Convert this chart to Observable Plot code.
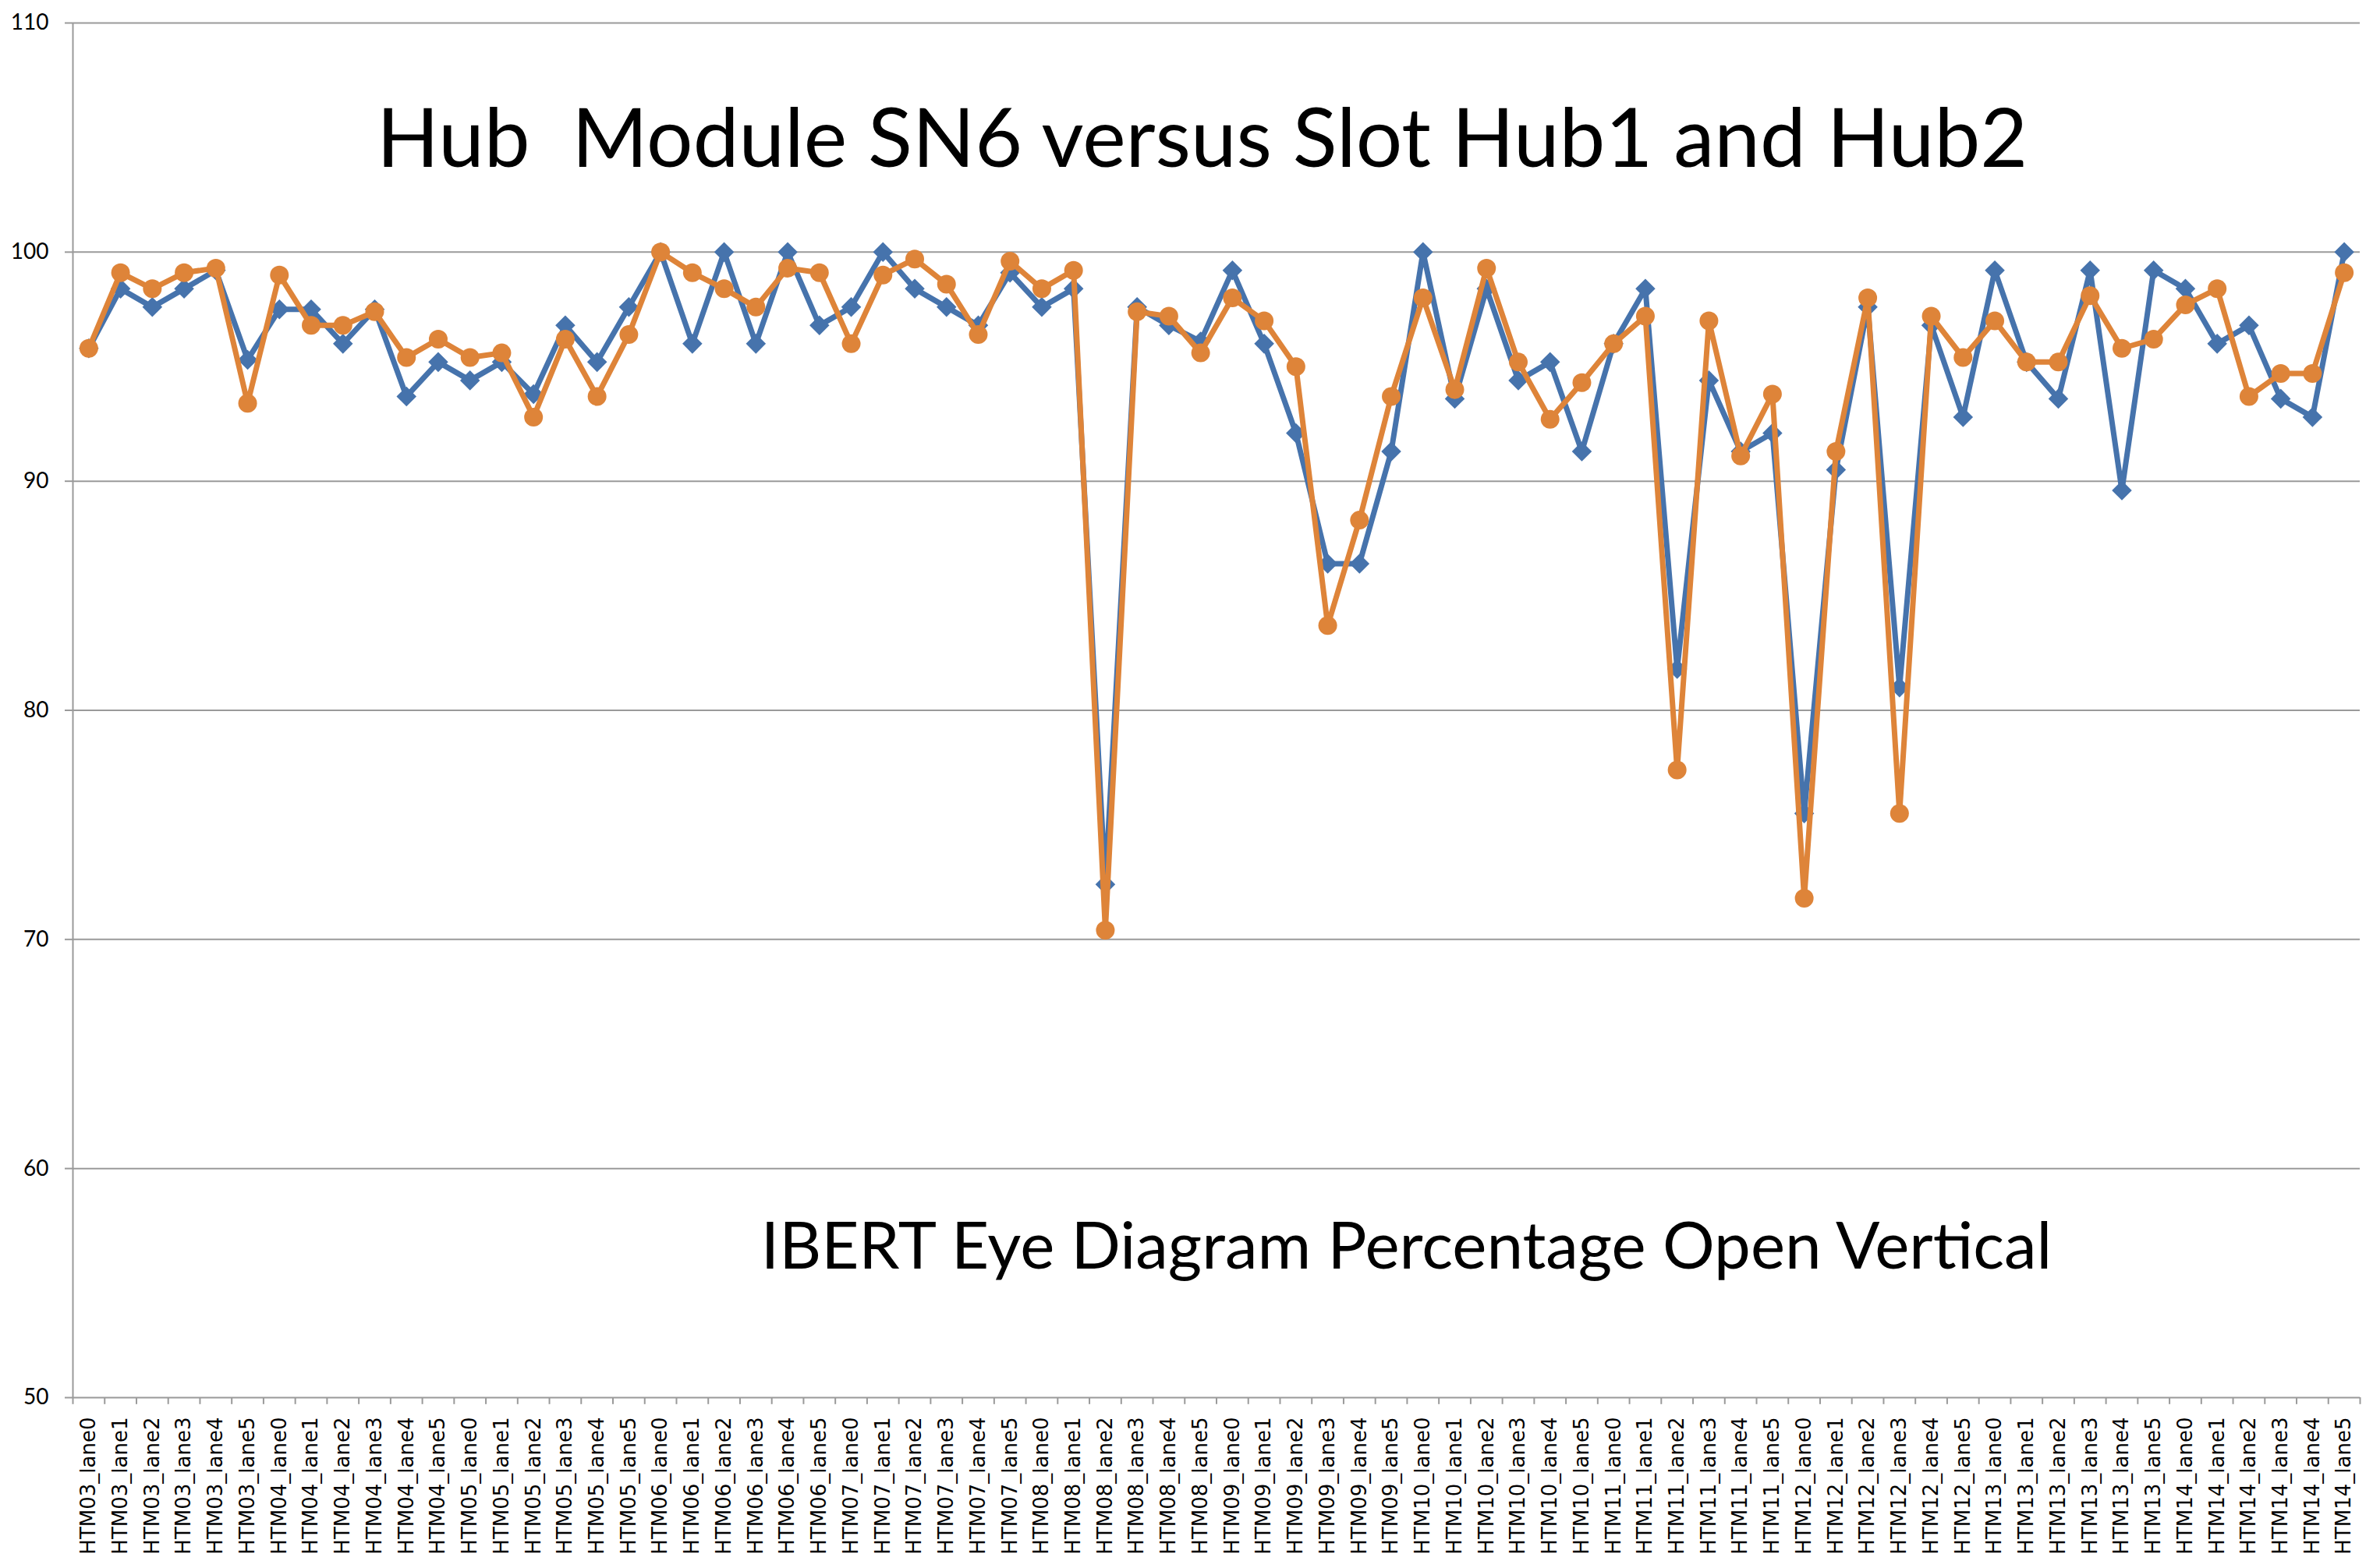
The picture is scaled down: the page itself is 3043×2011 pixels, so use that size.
<!DOCTYPE html>
<html><head><meta charset="utf-8">
<script src="https://cdn.jsdelivr.net/npm/d3@7"></script>
<script src="https://cdn.jsdelivr.net/npm/@observablehq/plot@0.6"></script>
<style>body{margin:0;background:#fff}</style>
</head><body><div id="chart"></div>
<script>
const modules = ["HTM03","HTM04","HTM05","HTM06","HTM07","HTM08","HTM09","HTM10","HTM11","HTM12","HTM13","HTM14"];
const lanes = ["lane0","lane1","lane2","lane3","lane4","lane5"];
const categories = modules.flatMap(m => lanes.map(l => m + "_" + l));
const yTicks = [50, 60, 70, 80, 90, 100, 110];

const hub1 = [95.8,98.4,97.6,98.4,99.2,95.3, 97.5,97.5,96.0,97.5,93.7,95.2,
  94.4,95.2,93.8,96.8,95.2,97.6, 100,96.0,100,96.0,100,96.8,
  97.6,100,98.4,97.6,96.8,99.1, 97.6,98.4,72.4,97.6,96.8,96.1,
  99.2,96.0,92.1,86.4,86.4,91.3, 100,93.6,98.4,94.4,95.2,91.3,
  96.0,98.4,81.8,94.4,91.3,92.1, 75.5,90.5,97.6,81.0,96.8,92.8,
  99.2,95.2,93.6,99.2,89.6,99.2, 98.4,96.0,96.8,93.6,92.8,100];
const hub2 = [95.8,99.1,98.4,99.1,99.3,93.4, 99.0,96.8,96.8,97.4,95.4,96.2,
  95.4,95.6,92.8,96.2,93.7,96.4, 100,99.1,98.4,97.6,99.3,99.1,
  96.0,99.0,99.7,98.6,96.4,99.6, 98.4,99.2,70.4,97.4,97.2,95.6,
  98.0,97.0,95.0,83.7,88.3,93.7, 98.0,94.0,99.3,95.2,92.7,94.3,
  96.0,97.2,77.4,97.0,91.1,93.8, 71.8,91.3,98.0,75.5,97.2,95.4,
  97.0,95.2,95.2,98.1,95.8,96.2, 97.7,98.4,93.7,94.7,94.7,99.1];

const title = "Hub  Module SN6 versus Slot Hub1 and Hub2";
const subtitle = "IBERT Eye Diagram Percentage Open Vertical";

const W = 3043, H = 2011, mL = 93, mR = 17, mT = 29, mB = 219;
const step = (W - mL - mR) / categories.length;
const blue = "#4673AC", orange = "#DE8439", gridC = "#9a9a9a";
const rows1 = categories.map((c, i) => ({c, v: hub1[i]}));
const rows2 = categories.map((c, i) => ({c, v: hub2[i]}));

const chart = Plot.plot({
  width: W, height: H,
  marginLeft: mL, marginRight: mR, marginTop: mT, marginBottom: mB,
  style: {background: "#fff"},
  x: {type: "point", domain: categories, padding: 0.5, label: null},
  y: {domain: [50, 110], label: null},
  marks: [
    Plot.gridY(yTicks, {stroke: gridC, strokeOpacity: 1, strokeWidth: 2}),
    Plot.axisY(yTicks, {tickSize: 10, tickPadding: 21, fontSize: 28, fontFamily: "Lato", stroke: gridC, strokeWidth: 2, fill: "#000", label: null}),
    Plot.axisX({tickRotate: -90, tickSize: 0, tickPadding: 25, fontSize: 26, fontFamily: "DejaVu Sans", fill: "#000", label: null}),
    Plot.ruleX(categories, {x: d => d, y1: 50, y2: 49.7, dx: -step / 2, stroke: gridC, strokeWidth: 2}),
    Plot.ruleX([categories[categories.length - 1]], {x: d => d, y1: 50, y2: 49.7, dx: step / 2, stroke: gridC, strokeWidth: 2}),
    Plot.ruleX([categories[0]], {x: d => d, y1: 50, y2: 110, dx: -step / 2, stroke: gridC, strokeWidth: 2}),
    Plot.line(rows1, {x: "c", y: "v", stroke: blue, strokeWidth: 7}),
    Plot.dot(rows1, {x: "c", y: "v", symbol: "diamond2", r: 11.5, fill: blue, stroke: "none"}),
    Plot.line(rows2, {x: "c", y: "v", stroke: orange, strokeWidth: 7}),
    Plot.dot(rows2, {x: "c", y: "v", r: 12, fill: orange, stroke: "none"}),
    Plot.text([title], {text: d => d, frameAnchor: "top-left", dx: 1541 - mL, dy: 213 - mT, textAnchor: "middle", lineAnchor: "bottom", fontSize: 105, fontFamily: "Lato", fill: "#000"}),
    Plot.text([subtitle], {text: d => d, frameAnchor: "top-left", dx: 1803 - mL, dy: 1626 - mT, textAnchor: "middle", lineAnchor: "bottom", fontSize: 83.5, fontFamily: "Lato", fill: "#000"})
  ]
});
document.getElementById("chart").appendChild(chart);
</script>
</body></html>
